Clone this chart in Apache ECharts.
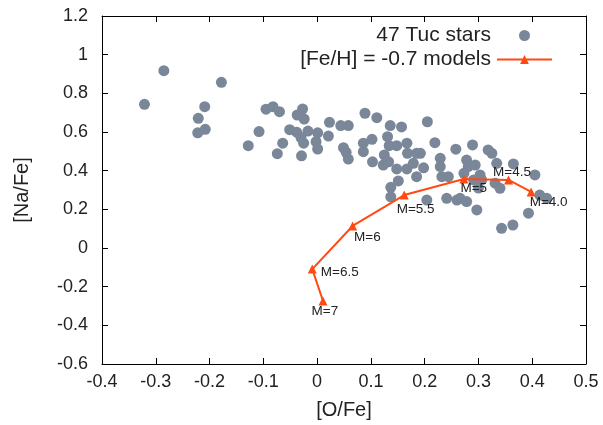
<!DOCTYPE html>
<html>
<head>
<meta charset="utf-8">
<script src="https://cdn.jsdelivr.net/npm/echarts@6/dist/echarts.min.js"></script>
<style>html,body{margin:0;padding:0;background:#fff}#c{width:603px;height:425px}</style>
</head>
<body>
<div id="c"></div>
<script>
// Observed 47 Tuc stars
var starO = [-0.321,-0.285,-0.178,-0.209,-0.221,-0.208,-0.222,-0.128,-0.108,-0.095,-0.082,-0.070,-0.074,-0.064,-0.051,-0.038,-0.030,-0.025,-0.029,-0.027,-0.037,-0.024,-0.017,0.001,-0.002,0.001,0.023,0.021,0.044,0.058,0.049,0.054,0.058,0.089,0.111,0.136,0.157,0.205,0.102,0.086,0.131,0.086,0.134,0.148,0.167,0.168,0.185,0.125,0.103,0.123,0.133,0.148,0.167,0.179,0.198,0.185,0.219,0.258,0.229,0.229,0.244,0.151,0.137,0.137,0.204,0.241,0.260,0.289,0.318,0.325,0.278,0.281,0.294,0.273,0.303,0.334,0.365,0.291,0.306,0.331,0.340,0.405,0.414,0.427,0.393,0.364,0.343,0.297,0.278,0.266,0.232,0.192,0.300];
var starNa = [0.743,0.917,0.857,0.731,0.671,0.614,0.596,0.529,0.602,0.718,0.731,0.705,0.488,0.542,0.612,0.599,0.571,0.542,0.477,0.719,0.688,0.667,0.605,0.596,0.550,0.512,0.650,0.579,0.633,0.633,0.519,0.495,0.460,0.697,0.674,0.633,0.626,0.653,0.562,0.542,0.576,0.498,0.529,0.529,0.542,0.490,0.490,0.481,0.446,0.429,0.446,0.409,0.409,0.438,0.415,0.369,0.545,0.511,0.464,0.421,0.369,0.347,0.314,0.265,0.248,0.257,0.248,0.533,0.507,0.490,0.455,0.421,0.429,0.386,0.378,0.438,0.435,0.352,0.352,0.335,0.309,0.378,0.274,0.257,0.180,0.119,0.102,0.197,0.240,0.257,0.369,0.490,0.310];
// [Fe/H] = -0.7 models
var modelMass = ['M=4.0','M=4.5','M=5','M=5.5','M=6','M=6.5','M=7'];
var modelO  = [0.398,0.356,0.273,0.162,0.066,-0.009,0.011];
var modelNa = [0.290,0.352,0.357,0.274,0.114,-0.109,-0.274];
var xTicks = [-0.4,-0.3,-0.2,-0.1,0,0.1,0.2,0.3,0.4,0.5];
var yTicks = [-0.6,-0.4,-0.2,0,0.2,0.4,0.6,0.8,1,1.2];
var seriesNames = ['47 Tuc stars','[Fe/H] = -0.7 models'];

// label placement (style only)
var labelPos = [[3,15],[-11,-3],[1,14],[-3,19],[6,16],[13,8],[-7,15]];

var FONT = '"Liberation Sans", Arial, Helvetica, sans-serif';
var starData = starO.map(function(x,i){return [x, starNa[i]];});
var modelData = modelO.map(function(x,i){
  return {value:[x, modelNa[i]], name: modelMass[i],
    label:{show:true, position: labelPos[i], align:'left', verticalAlign:'middle',
      formatter: modelMass[i], fontSize:13.5, color:'#222', fontFamily:FONT}};
});
function fmt(v){ return String(+(+v).toFixed(1)); }
var chart = echarts.init(document.getElementById('c'));
var axisCommon = {
  axisLine:{show:true, onZero:false, lineStyle:{color:'#000', width:1}},
  axisTick:{show:true, inside:true, length:6, lineStyle:{color:'#000'}},
  splitLine:{show:false}
};
chart.setOption({
  animation:false,
  backgroundColor:'#fff',
  grid:{left:102, right:17, top:16, bottom:61, containLabel:false, outerBoundsMode:'none'},
  legend:{
    orient:'vertical', right:45, top:20, align:'right', itemGap:3,
    itemWidth:55, itemHeight:11,
    textStyle:{fontSize:21, color:'#222', fontFamily:FONT, padding:[0,1,0,0]},
    data:[{name:seriesNames[0], icon:'circle'}, {name:seriesNames[1]}]
  },
  xAxis:[
    Object.assign({type:'value', min:xTicks[0], max:xTicks[xTicks.length-1], interval:0.1,
      name:'[O/Fe]', nameLocation:'middle', nameGap:36,
      nameTextStyle:{fontSize:20, color:'#222', fontFamily:FONT},
      axisLabel:{fontSize:18, color:'#222', fontFamily:FONT, margin:9, formatter:fmt}}, axisCommon),
    Object.assign({type:'value', position:'top', min:xTicks[0], max:xTicks[xTicks.length-1], interval:0.1,
      axisLabel:{show:false}}, axisCommon)
  ],
  yAxis:[
    Object.assign({type:'value', min:yTicks[0], max:yTicks[yTicks.length-1], interval:0.2,
      name:'[Na/Fe]', nameLocation:'middle', nameGap:70, nameRotate:90,
      nameTextStyle:{fontSize:20, color:'#222', fontFamily:FONT},
      axisLabel:{fontSize:18, color:'#222', fontFamily:FONT, margin:14, formatter:fmt}}, axisCommon),
    Object.assign({type:'value', position:'right', min:yTicks[0], max:yTicks[yTicks.length-1], interval:0.2,
      axisLabel:{show:false}}, axisCommon)
  ],
  series:[
    {name:seriesNames[0], type:'scatter', data:starData, symbol:'circle', symbolSize:11,
      itemStyle:{color:'#7a8799', opacity:1}, z:2},
    {name:seriesNames[1], type:'line', data:modelData, symbol:'triangle', symbolSize:9,
      lineStyle:{color:'#ff4a12', width:2}, itemStyle:{color:'#ff4a12'}, z:3}
  ]
});
</script>
</body>
</html>
